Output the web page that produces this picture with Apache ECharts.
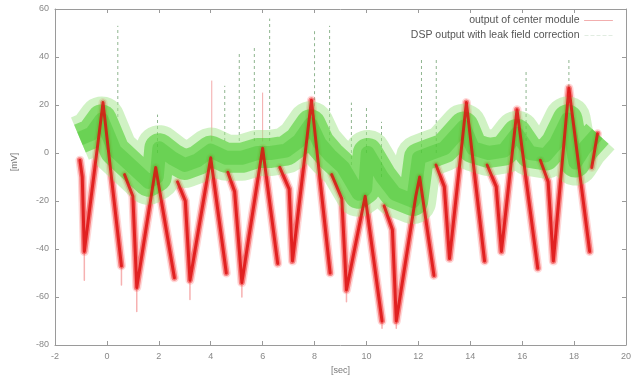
<!DOCTYPE html>
<html>
<head>
<meta charset="utf-8">
<script src="https://cdn.jsdelivr.net/npm/echarts@6/dist/echarts.min.js"></script>
<style>
    html, body { margin: 0; padding: 0; background: #fff; }
    #chart { width: 638px; height: 382px; }
</style>
</head>
<body>
<div id="chart"></div>
<script>
// x ticks [sec] and y ticks [mV]
const xTicks = [-2, 0, 2, 4, 6, 8, 10, 12, 14, 16, 18, 20];
const yTicks = [-80, -60, -40, -20, 0, 20, 40, 60];

const seriesNames = ['output of center module', 'DSP output with leak field correction'];

// red trace, one list per unbroken run: [sec, mV] at the visible corners
const centerRuns = [
    [[-1.04, -3], [-0.95, -10], [-0.87, -41], [-0.15, 21], [0.56, -47]],
    [[0.68, -9], [1.0, -18], [1.15, -56], [1.88, -6], [2.6, -52]],
    [[2.72, -12], [3.02, -20], [3.2, -53], [4.0, -2], [4.6, -50]],
    [[4.66, -8], [4.92, -16], [5.2, -54], [6.0, 2], [6.58, -46]],
    [[6.66, -6], [7.02, -15], [7.15, -45], [7.88, 22], [8.6, -50]],
    [[8.66, -9], [9.05, -19], [9.23, -57], [9.95, -18], [10.6, -70]],
    [[10.68, -22], [11.0, -32], [11.15, -70], [11.9, -18], [12.05, -10], [12.6, -51]],
    [[12.68, -5], [13.0, -14], [13.2, -44], [13.85, 21], [14.55, -45]],
    [[14.65, -5], [15.0, -14], [15.2, -41], [15.8, 18], [16.6, -48]],
    [[16.7, -3], [17.0, -12], [17.2, -45], [17.8, 27], [18.6, -41]],
    [[18.68, -6], [18.9, 8]]
];

// thin pink noise tails under some troughs: [sec, from mV, to mV]
const centerTails = [
    [-0.87, -41, -53], [0.56, -47, -55], [1.15, -56, -66], [3.2, -53, -61],
    [5.2, -54, -60], [9.23, -57, -62], [10.6, -70, -73], [11.15, -70, -73]
];

// green trace middle line [sec, mV]
const dspMid = [
    [-1.04, 6], [-0.6, 8], [-0.2, 14], [0.3, 1], [1.0, -6], [1.6, -12], [1.92, -10],
    [2.02, 2], [2.5, -2], [3.0, -5], [3.5, -3], [4.0, 1], [4.6, -2], [5.2, -2],
    [5.8, 0], [6.3, 0], [6.9, 1], [7.4, 5], [7.85, 12], [8.2, 4], [8.6, -1],
    [9.1, -6], [9.7, -17], [9.95, -15], [10.05, 0], [10.6, -10], [11.1, -17],
    [11.8, -20], [12.02, -2], [12.5, 0], [13.0, 2], [13.75, 11], [14.1, 2],
    [14.7, 0], [15.3, 1], [15.8, 8], [16.3, 0], [16.9, -1], [17.3, 4],
    [17.75, 14], [18.05, -4], [18.4, 2], [18.9, 8]
];

// dashed glitches in the DSP output: [sec, from mV, to mV]
const dspSpikes = [
    [0.42, 15, 53], [1.95, 0, 16], [4.54, 5, 28], [5.1, 5, 42], [5.68, 5, 45],
    [6.27, 5, 56], [8.0, 12, 51], [8.58, 5, 53], [9.42, -5, 21], [10.0, 0, 20],
    [10.58, -10, 13], [12.12, 0, 39], [12.69, 0, 40], [16.15, 5, 35], [17.8, 20, 40]
];
const centerSpikes = [[4.04, 5, 30], [6.0, 5, 25]];

function joinRuns(runs) {
    let out = [];
    runs.forEach(r => {
        out = out.concat(r);
        out.push([r[r.length - 1][0], null]);
    });
    return out;
}
function spikeLines(list) {
    let out = [];
    list.forEach(s => {
        out.push([s[0], s[1]], [s[0], s[2]], [s[0], null]);
    });
    return out;
}

const centerData = joinRuns(centerRuns);
const tailData = spikeLines(centerTails);

var myChart = echarts.init(document.getElementById('chart'), null, { renderer: 'canvas' });

const grey = '#9a9a9a';
const font = 'Liberation Sans';

function axisCommon(extra) {
    return Object.assign({
        type: 'value',
        axisLine: { show: true, onZero: false, lineStyle: { color: grey, width: 1 } },
        axisTick: { show: true, inside: true, length: 4, lineStyle: { color: grey } },
        splitLine: { show: false },
        axisLabel: { show: false }
    }, extra);
}

function plain(name, data, color, width, opacity, z, cap) {
    return {
        name: name,
        type: 'line',
        data: data,
        symbol: 'none',
        showSymbol: false,
        silent: true,
        connectNulls: false,
        z: z,
        itemStyle: { color: color },
        lineStyle: { color: color, width: width, opacity: opacity, cap: cap || 'round', join: 'round' }
    };
}

var option = {
    animation: false,
    backgroundColor: '#fff',
    grid: { left: 55, right: 12, top: 9, bottom: 37 },
    legend: {
        right: 25,
        top: 15,
        padding: 0,
        orient: 'vertical',
        align: 'right',
        itemWidth: 28,
        itemHeight: 8,
        itemGap: 4,
        selectedMode: false,
        textStyle: { fontSize: 10.5, color: '#555', fontFamily: font },
        data: [
            { name: seriesNames[0], itemStyle: { opacity: 0 }, lineStyle: { color: '#f0a0a0', width: 1, type: 'solid' } },
            { name: seriesNames[1], itemStyle: { opacity: 0 }, lineStyle: { color: '#9cc09c', width: 1, type: 'dashed' } }
        ]
    },
    xAxis: [
        axisCommon({
            min: xTicks[0], max: xTicks[xTicks.length - 1], interval: 2, position: 'bottom',
            name: '[sec]', nameLocation: 'middle', nameGap: 20,
            nameTextStyle: { fontSize: 9, color: '#777', fontFamily: font },
            axisLabel: { show: true, fontSize: 9, color: '#888', margin: 7, fontFamily: font }
        }),
        axisCommon({ min: xTicks[0], max: xTicks[xTicks.length - 1], interval: 2, position: 'top' })
    ],
    yAxis: [
        axisCommon({
            min: yTicks[0], max: yTicks[yTicks.length - 1], interval: 20, position: 'left',
            name: '[mV]', nameLocation: 'middle', nameGap: 36, nameRotate: 90,
            nameTextStyle: { fontSize: 9, color: '#777', fontFamily: font, padding: [0, 0, 0, 30] },
            axisLabel: { show: true, fontSize: 9, color: '#888', margin: 6, fontFamily: font }
        }),
        axisCommon({ min: yTicks[0], max: yTicks[yTicks.length - 1], interval: 20, position: 'right' })
    ],
    series: [
        Object.assign(plain('dspSpikes', spikeLines(dspSpikes), '#8fb58f', 1, 0.9, 1),
            { lineStyle: { color: '#8fb58f', width: 1, type: [3, 3] } }),
        plain('centerSpikes', spikeLines(centerSpikes), '#f2a0a0', 1, 0.9, 1),
        plain('tails', tailData, '#f5a8a8', 1.5, 0.9, 1),
        plain('centerHalo', centerData, '#ff6060', 9, 0.25, 2),
        plain('centerHalo2', centerData, '#f02828', 6, 0.5, 2),
        plain('dspOuter', dspMid, '#a2e68a', 46, 0.5, 3, 'butt'),
        plain('dspMidBand', dspMid, '#52cf34', 30, 0.6, 3, 'butt'),
        plain(seriesNames[1], dspMid, '#2fb81c', 14, 0.3, 3, 'butt'),
        plain(seriesNames[0], centerData, '#dd1010', 3, 0.85, 4)
    ]
};

myChart.setOption(option);
</script>
</body>
</html>
